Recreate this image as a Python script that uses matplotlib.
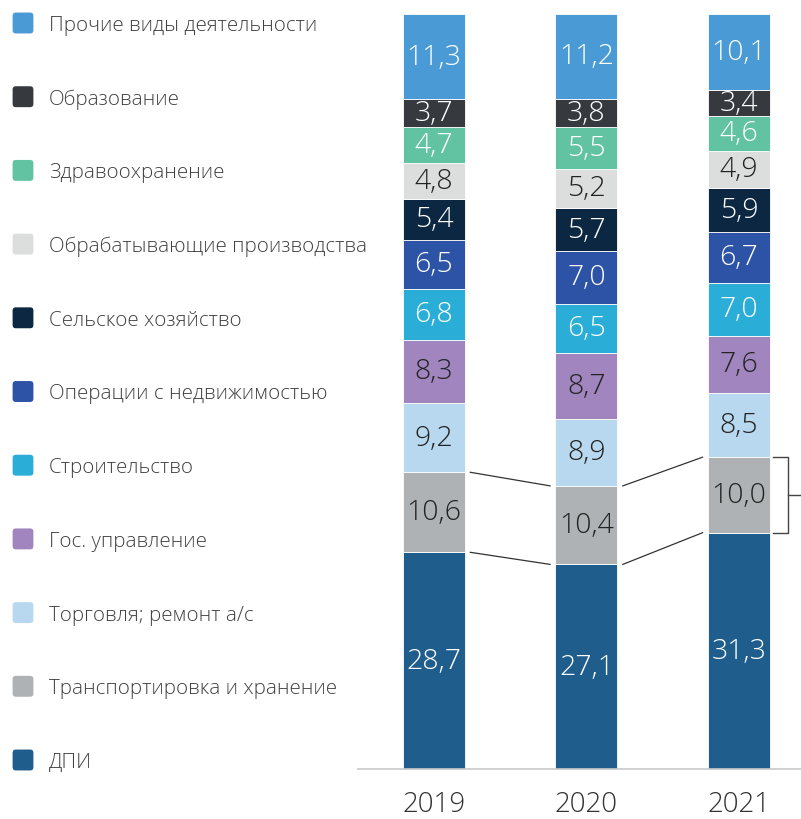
import matplotlib
matplotlib.use('Agg')
import matplotlib.pyplot as plt
from matplotlib.patches import FancyBboxPatch
import numpy as np

plt.rcParams['font.family'] = ['Open Sans', 'DejaVu Sans']

years = ['2019', '2020', '2021']

# bottom to top
categories = ['ДПИ', 'Транспортировка и хранение', 'Торговля; ремонт а/с',
              'Гос. управление', 'Строительство', 'Операции с недвижимостью',
              'Сельское хозяйство', 'Обрабатывающие производства',
              'Здравоохранение', 'Образование', 'Прочие виды деятельности']

values = {
    'ДПИ': [28.7, 27.1, 31.3],
    'Транспортировка и хранение': [10.6, 10.4, 10.0],
    'Торговля; ремонт а/с': [9.2, 8.9, 8.5],
    'Гос. управление': [8.3, 8.7, 7.6],
    'Строительство': [6.8, 6.5, 7.0],
    'Операции с недвижимостью': [6.5, 7.0, 6.7],
    'Сельское хозяйство': [5.4, 5.7, 5.9],
    'Обрабатывающие производства': [4.8, 5.2, 4.9],
    'Здравоохранение': [4.7, 5.5, 4.6],
    'Образование': [3.7, 3.8, 3.4],
    'Прочие виды деятельности': [11.3, 11.2, 10.1],
}

colors = {
    'ДПИ': '#1f5d8c',
    'Транспортировка и хранение': '#afb2b4',
    'Торговля; ремонт а/с': '#b8d8ef',
    'Гос. управление': '#a085be',
    'Строительство': '#2aaed8',
    'Операции с недвижимостью': '#2c53a5',
    'Сельское хозяйство': '#0c2742',
    'Обрабатывающие производства': '#dcdedd',
    'Здравоохранение': '#62c3a2',
    'Образование': '#363a3e',
    'Прочие виды деятельности': '#4a9bd5',
}

dark_text = {'Транспортировка и хранение', 'Торговля; ремонт а/с',
             'Гос. управление', 'Обрабатывающие производства'}

W, H = 801, 820
fig = plt.figure(figsize=(W / 100, H / 100), dpi=100)
ax = fig.add_axes([358 / W, 50 / H, (W - 358) / W, 755 / H])

x = np.arange(len(years))
width = 0.407
bottom = np.zeros(len(years))
tops = {}
for cat in categories:
    v = np.array(values[cat])
    ax.bar(x, v, width, bottom=bottom, color=colors[cat],
           edgecolor='white', linewidth=0.6)
    tc = '#222222' if cat in dark_text else 'white'
    for i in range(len(years)):
        ax.text(x[i], bottom[i] + v[i] / 2, f'{v[i]:.1f}'.replace('.', ','),
                ha='center', va='center', fontsize=20.5, color=tc,
                fontweight='light')
    tops[cat] = (bottom.copy(), bottom + v)
    bottom = bottom + v

ax.set_xlim(-0.498, 2.407)
ax.set_ylim(0, 100)
for s in ['top', 'right', 'left']:
    ax.spines[s].set_visible(False)
ax.spines['bottom'].set_color('#c8c8c8')
ax.spines['bottom'].set_linewidth(1.2)
ax.set_yticks([])
ax.set_xticks(x)
ax.set_xticklabels(years, fontsize=20, color='#333333', fontweight='light')
ax.tick_params(axis='x', length=0, pad=15)

# connector lines for Транспортировка и хранение segment
lo, hi = tops['Транспортировка и хранение']
gap = 0.035
for i in range(len(years) - 1):
    x0 = x[i] + width / 2 + gap
    x1 = x[i + 1] - width / 2 - gap
    for yy in (lo, hi):
        ax.plot([x0, x1], [yy[i], yy[i + 1]], color='#333333', lw=0.9,
                clip_on=False)

# bracket right of 2021
bx = x[2] + width / 2 + 0.12
ax.plot([bx - 0.1, bx, bx, bx - 0.1], [hi[2], hi[2], lo[2], lo[2]],
        color='#444444', lw=1.0, clip_on=False)
ax.plot([bx, bx + 0.12], [(lo[2] + hi[2]) / 2] * 2, color='#444444', lw=1.0,
        clip_on=False)

# legend
leg_top = 24
step = 73.7
for k, cat in enumerate(categories[::-1]):
    yc = leg_top + k * step
    box = FancyBboxPatch(((13 + 2) / W, (H - yc - 8) / H), 16 / W, 16 / H,
                         boxstyle='round,pad=0.003,rounding_size=0.004',
                         transform=fig.transFigure, facecolor=colors[cat],
                         edgecolor='none')
    fig.patches.append(box)
    fig.text(49 / W, (H - yc - 2) / H, cat, ha='left', va='center',
             fontsize=14.8, color='#404040', fontweight='light')

fig.savefig('out.png', dpi=100)
